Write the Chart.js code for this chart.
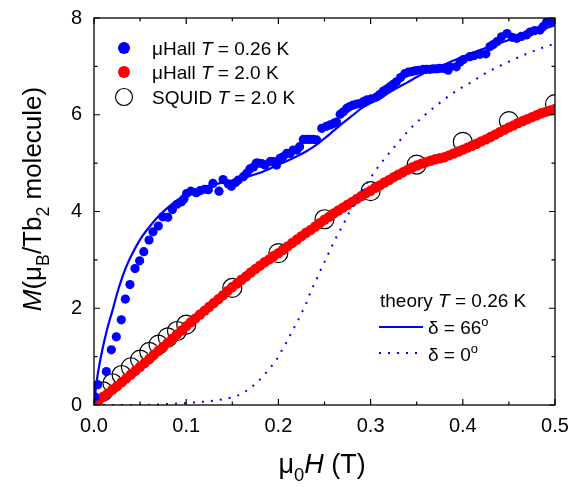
<!DOCTYPE html>
<html>
<head>
<meta charset="utf-8">
<script src="https://cdn.jsdelivr.net/npm/chart.js@4.4.1/dist/chart.umd.min.js"></script>
<style>
  html, body { margin: 0; padding: 0; background: #fff; }
  canvas { display: block; }
</style>
</head>
<body>
<canvas id="c" width="582" height="487"></canvas>
<script>
// ---------- data ----------
const xTickValues = [0, 0.1, 0.2, 0.3, 0.4, 0.5];
const yTickValues = [0, 2, 4, 6, 8];

// µHall, T = 0.26 K  [mu0H (T), M (muB/Tb2)]
const hall026K = [
  [0.001,0.17],[0.004,0.42],[0.0134,0.69],[0.0188,1.14],[0.0242,1.41],[0.0296,1.76],[0.034,2.19],
  [0.039,2.49],[0.0445,2.82],[0.0495,2.98],[0.054,3.17],[0.0597,3.41],[0.064,3.58],[0.0698,3.70],
  [0.0745,3.89],[0.080,3.88],[0.085,4.04],[0.090,4.15],[0.095,4.20],[0.0975,4.26],[0.1005,4.37],
  [0.105,4.42],[0.111,4.39],[0.115,4.43],[0.120,4.46],[0.124,4.45],[0.129,4.58],[0.1356,4.42],
  [0.140,4.66],[0.1457,4.57],[0.149,4.52],[0.1535,4.60],[0.1565,4.65],[0.162,4.72],[0.1656,4.79],
  [0.169,4.88],[0.173,4.92],[0.176,5.00],[0.178,5.00],[0.182,4.99],[0.1855,4.96],[0.191,5.03],
  [0.1945,5.03],[0.198,4.96],[0.2017,5.10],[0.205,5.13],[0.209,5.20],[0.2126,5.20],[0.216,5.27],
  [0.220,5.27],[0.223,5.34],[0.227,5.49],[0.2305,5.49],[0.234,5.49],[0.238,5.49],[0.2415,5.48],
  [0.247,5.72],[0.252,5.76],[0.256,5.79],[0.260,5.82],[0.263,5.85],[0.267,6.01],[0.2705,6.06],
  [0.274,6.13],[0.2775,6.17],[0.281,6.20],[0.285,6.22],[0.2885,6.23],[0.292,6.27],[0.296,6.31],
  [0.301,6.33],[0.3066,6.37],[0.310,6.42],[0.3138,6.49],[0.3175,6.53],[0.321,6.58],[0.3245,6.63],
  [0.328,6.68],[0.3325,6.77],[0.337,6.85],[0.3408,6.88],[0.3446,6.89],[0.348,6.91],[0.3517,6.92],
  [0.357,6.94],[0.3605,6.94],[0.3644,6.94],[0.368,6.95],[0.3717,6.95],[0.375,6.96],[0.379,6.96],
  [0.384,6.92],[0.386,6.99],[0.393,6.99],[0.397,7.09],[0.4006,7.14],[0.4075,7.20],[0.412,7.22],
  [0.4187,7.25],[0.425,7.26],[0.4295,7.41],[0.433,7.45],[0.437,7.51],[0.442,7.61],[0.448,7.68],
  [0.4535,7.60],[0.4585,7.58],[0.4635,7.62],[0.469,7.65],[0.473,7.71],[0.478,7.74],[0.4837,7.75],
  [0.487,7.82],[0.491,7.92],[0.496,7.92],[0.4995,7.94]
];

// µHall, T = 2.0 K
const hall20K = [
  [0.000,0.02],[0.005,0.09],[0.010,0.17],[0.015,0.24],[0.020,0.32],[0.025,0.39],[0.030,0.47],
  [0.035,0.55],[0.040,0.63],[0.045,0.71],[0.050,0.79],[0.055,0.87],[0.060,0.95],[0.065,1.04],
  [0.070,1.12],[0.075,1.20],[0.080,1.29],[0.085,1.37],[0.090,1.46],[0.095,1.54],[0.100,1.63],
  [0.105,1.71],[0.110,1.79],[0.115,1.87],[0.120,1.95],[0.125,2.03],[0.130,2.11],[0.135,2.19],
  [0.140,2.27],[0.145,2.36],[0.150,2.44],[0.155,2.51],[0.160,2.59],[0.165,2.66],[0.170,2.74],
  [0.175,2.81],[0.180,2.88],[0.185,2.95],[0.190,3.01],[0.195,3.08],[0.200,3.14],[0.205,3.21],
  [0.210,3.28],[0.215,3.35],[0.220,3.42],[0.225,3.49],[0.230,3.56],[0.235,3.62],[0.240,3.69],
  [0.245,3.76],[0.250,3.83],[0.255,3.89],[0.260,3.96],[0.265,4.02],[0.270,4.08],[0.275,4.14],
  [0.280,4.20],[0.285,4.26],[0.290,4.32],[0.295,4.38],[0.300,4.43],[0.305,4.49],[0.310,4.54],
  [0.315,4.60],[0.320,4.65],[0.325,4.71],[0.330,4.76],[0.335,4.81],[0.340,4.86],[0.345,4.91],
  [0.350,4.95],[0.355,4.99],[0.360,5.02],[0.365,5.05],[0.370,5.08],[0.375,5.10],[0.380,5.12],
  [0.385,5.16],[0.390,5.20],[0.395,5.24],[0.400,5.28],[0.405,5.32],[0.410,5.36],[0.415,5.40],
  [0.420,5.45],[0.425,5.49],[0.430,5.54],[0.435,5.59],[0.440,5.64],[0.445,5.69],[0.450,5.74],
  [0.455,5.78],[0.460,5.83],[0.465,5.87],[0.470,5.91],[0.475,5.95],[0.480,5.99],[0.485,6.03],
  [0.490,6.06],[0.495,6.09],[0.500,6.12]
];

// SQUID, T = 2.0 K
const squidH = [0.01,0.02,0.03,0.04,0.05,0.06,0.07,0.08,0.09,0.10,0.15,0.20,0.25,0.30,0.35,0.40,0.45,0.50];
const squidM = [0.28,0.45,0.62,0.78,0.94,1.10,1.25,1.40,1.53,1.66,2.42,3.14,3.84,4.42,4.97,5.44,5.87,6.22];

// theory, T = 0.26 K, delta = 66 deg
const theory66 = [
  [0,0],[0.003,0.50],[0.007,0.95],[0.014,1.55],[0.020,1.95],[0.025,2.30],[0.030,2.60],[0.035,2.86],
  [0.040,3.07],[0.050,3.42],[0.060,3.68],[0.070,3.90],[0.080,4.08],[0.090,4.23],[0.100,4.36],
  [0.110,4.45],[0.120,4.51],[0.130,4.56],[0.140,4.60],[0.150,4.64],[0.160,4.69],[0.170,4.74],
  [0.180,4.80],[0.190,4.88],[0.200,4.97],[0.210,5.05],[0.220,5.14],[0.230,5.24],[0.240,5.36],
  [0.250,5.51],[0.260,5.67],[0.270,5.83],[0.280,5.98],[0.290,6.13],[0.300,6.24],[0.310,6.33],
  [0.320,6.46],[0.330,6.57],[0.340,6.67],[0.350,6.78],[0.360,6.88],[0.370,6.96],[0.380,7.04],
  [0.390,7.12],[0.400,7.20],[0.420,7.35],[0.440,7.48],[0.460,7.61],[0.480,7.73],[0.500,7.85]
];

// theory, T = 0.26 K, delta = 0 deg
const theory0 = [
  [0,0],[0.050,0.00],[0.080,0.02],[0.100,0.04],[0.120,0.07],[0.130,0.09],[0.1457,0.14],[0.155,0.19],
  [0.165,0.29],[0.1746,0.43],[0.1836,0.60],[0.1916,0.78],[0.1988,0.96],[0.2046,1.16],[0.210,1.34],
  [0.215,1.53],[0.2205,1.72],[0.2253,1.91],[0.230,2.09],[0.2335,2.27],[0.2379,2.46],[0.2426,2.65],
  [0.247,2.84],[0.2516,3.02],[0.256,3.20],[0.2607,3.39],[0.2657,3.57],[0.2711,3.76],[0.2759,3.95],
  [0.2817,4.13],[0.2874,4.32],[0.2932,4.51],[0.3001,4.70],[0.3066,4.88],[0.3138,5.06],[0.3221,5.25],
  [0.3301,5.43],[0.3391,5.63],[0.3482,5.81],[0.358,5.98],[0.368,6.14],[0.388,6.43],[0.408,6.66],
  [0.4277,6.89],[0.4469,7.07],[0.4656,7.23],[0.4855,7.38],[0.500,7.47]
];

// ---------- styling ----------
const BLUE = '#0000ff';
const RED = '#ff0000';
const FONT = '"Liberation Sans", Arial, Helvetica, sans-serif';

function drawRuns(ctx, runs, x, y, size, align) {
  const parts = runs.map(r => {
    const fs = (r.sub || r.sup) ? size * 0.68 : size;
    const font = (r.it ? 'italic ' : '') + fs + 'px ' + FONT;
    ctx.font = font;
    return { r, font, w: ctx.measureText(r.t).width, dy: r.sub ? size * 0.3 : (r.sup ? -size * 0.42 : 0) };
  });
  const total = parts.reduce((a, p) => a + p.w, 0);
  let cx = align === 'center' ? x - total / 2 : x;
  ctx.textAlign = 'left';
  ctx.textBaseline = 'alphabetic';
  for (const p of parts) {
    ctx.font = p.font;
    ctx.fillText(p.r.t, cx, y + p.dy);
    cx += p.w;
  }
}

const decorPlugin = {
  id: 'decor',
  afterDraw(chart) {
    const ctx = chart.ctx;
    const a = chart.chartArea;
    const xs = chart.scales.x, ys = chart.scales.y;
    ctx.save();
    ctx.strokeStyle = '#000';
    ctx.fillStyle = '#000';
    ctx.lineWidth = 1.3;
    ctx.strokeRect(a.left, a.top, a.right - a.left, a.bottom - a.top);
    // ticks inward on all four sides
    ctx.lineWidth = 1.2;
    ctx.beginPath();
    for (let i = 0; i <= 10; i++) {
      const v = i * 0.05;
      const px = xs.getPixelForValue(v);
      const len = (i % 2 === 0) ? 6 : 3.5;
      ctx.moveTo(px, a.bottom); ctx.lineTo(px, a.bottom - len);
      ctx.moveTo(px, a.top); ctx.lineTo(px, a.top + len);
    }
    for (let i = 0; i <= 8; i++) {
      const py = ys.getPixelForValue(i);
      const len = (i % 2 === 0) ? 6 : 3.5;
      ctx.moveTo(a.left, py); ctx.lineTo(a.left + len, py);
      ctx.moveTo(a.right, py); ctx.lineTo(a.right - len, py);
    }
    ctx.stroke();

    // axis titles
    drawRuns(ctx, [{t:'\u03bc'},{t:'0',sub:true},{t:'H',it:true},{t:' (T)'}], 322, 473, 27, 'center');
    ctx.save();
    ctx.translate(41, 199);
    ctx.rotate(-Math.PI / 2);
    drawRuns(ctx, [{t:'M',it:true},{t:'(\u03bc'},{t:'B',sub:true},{t:'/Tb'},{t:'2',sub:true},{t:' molecule)'}], 0, 0, 26, 'center');
    ctx.restore();

    // top-left legend
    const ls = 19;
    ctx.fillStyle = BLUE;
    ctx.beginPath(); ctx.arc(124, 48, 6, 0, Math.PI * 2); ctx.fill();
    ctx.fillStyle = RED;
    ctx.beginPath(); ctx.arc(124, 72, 6, 0, Math.PI * 2); ctx.fill();
    ctx.strokeStyle = '#000'; ctx.lineWidth = 1.2;
    ctx.beginPath(); ctx.arc(124, 97, 8.5, 0, Math.PI * 2); ctx.stroke();
    ctx.fillStyle = '#000';
    drawRuns(ctx, [{t:'\u03bcHall '},{t:'T',it:true},{t:' = 0.26 K'}], 152, 55, ls);
    drawRuns(ctx, [{t:'\u03bcHall '},{t:'T',it:true},{t:' = 2.0 K'}], 152, 79, ls);
    drawRuns(ctx, [{t:'SQUID '},{t:'T',it:true},{t:' = 2.0 K'}], 152, 104, ls);

    // bottom-right legend
    drawRuns(ctx, [{t:'theory '},{t:'T',it:true},{t:' = 0.26 K'}], 380, 307, ls);
    ctx.strokeStyle = BLUE; ctx.lineWidth = 2.2;
    ctx.beginPath(); ctx.moveTo(379, 327); ctx.lineTo(423, 327); ctx.stroke();
    ctx.lineWidth = 2; ctx.setLineDash([2, 7]);
    ctx.beginPath(); ctx.moveTo(379, 353); ctx.lineTo(420, 353); ctx.stroke();
    ctx.setLineDash([]);
    ctx.fillStyle = '#000';
    drawRuns(ctx, [{t:'\u03b4 = 66'},{t:'o',sup:true}], 428, 334, ls);
    drawRuns(ctx, [{t:'\u03b4 = 0'},{t:'o',sup:true}], 428, 361, ls);
    ctx.restore();
  }
};

const toXY = arr => arr.map(p => ({ x: p[0], y: p[1] }));

new Chart(document.getElementById('c'), {
  type: 'scatter',
  data: {
    datasets: [
      { label: 'SQUID T = 2.0 K', data: squidH.map((h, i) => ({ x: h, y: squidM[i] })),
        pointRadius: 9.5, pointBorderWidth: 1.2, pointBorderColor: '#000', pointBackgroundColor: 'rgba(0,0,0,0)',
        borderColor: '#000', backgroundColor: 'rgba(0,0,0,0)', order: 5 },
      { label: 'µHall T = 2.0 K', data: toXY(hall20K), pointRadius: 5.2, pointBorderWidth: 0,
        pointBackgroundColor: RED, backgroundColor: RED, borderColor: RED, order: 4 },
      { label: 'µHall T = 0.26 K', data: toXY(hall026K), pointRadius: 4.6, pointBorderWidth: 0,
        pointBackgroundColor: BLUE, backgroundColor: BLUE, borderColor: BLUE, order: 3 },
      { label: 'δ = 66°', data: toXY(theory66), showLine: true, pointRadius: 0, borderColor: BLUE,
        borderWidth: 2.2, cubicInterpolationMode: 'monotone', fill: false, order: 2 },
      { label: 'δ = 0°', data: toXY(theory0), showLine: true, pointRadius: 0, borderColor: BLUE,
        borderWidth: 2, borderDash: [2, 7], cubicInterpolationMode: 'monotone', fill: false, order: 1 }
    ]
  },
  options: {
    responsive: false,
    animation: false,
    devicePixelRatio: 1,
    layout: { padding: { left: 0, top: 18, right: 27, bottom: 0 } },
    plugins: { legend: { display: false }, tooltip: { enabled: false } },
    scales: {
      x: {
        type: 'linear', min: 0, max: 0.5,
        grid: { display: false, drawTicks: false },
        border: { display: false },
        afterBuildTicks: s => { s.ticks = xTickValues.map(v => ({ value: v })); },
        ticks: { padding: 9, color: '#000', font: { family: FONT, size: 20 },
                 maxRotation: 0, callback: v => Number(v).toFixed(1) },
        afterFit: s => { s.height = 82; s.paddingLeft = 0; s.paddingRight = 0; }
      },
      y: {
        type: 'linear', min: 0, max: 8,
        grid: { display: false, drawTicks: false },
        border: { display: false },
        afterBuildTicks: s => { s.ticks = yTickValues.map(v => ({ value: v })); },
        ticks: { padding: 12, color: '#000', font: { family: FONT, size: 20 },
                 callback: v => String(v) },
        afterFit: s => { s.width = 94; s.paddingTop = 0; s.paddingBottom = 0; }
      }
    }
  },
  plugins: [decorPlugin]
});
</script>
</body>
</html>
